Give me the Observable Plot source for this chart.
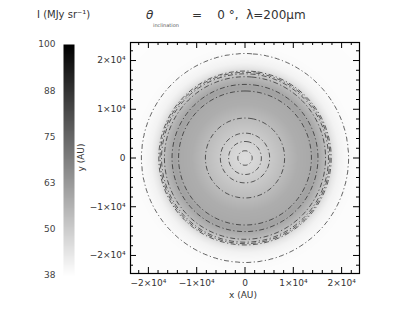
<!DOCTYPE html>
<html><head><meta charset="utf-8">
<script src="https://cdn.jsdelivr.net/npm/d3@7"></script>
<script src="https://cdn.jsdelivr.net/npm/@observablehq/plot@0.6"></script>
<style>
body{margin:0;background:#fff;}
#wrap{position:relative;width:402px;height:311px;overflow:hidden;font-family:"DejaVu Sans",sans-serif;color:#333;}
#cb,#main{position:absolute;left:0;top:0;}
.t{position:absolute;white-space:nowrap;font-size:11px;line-height:1;color:#333;}
</style></head>
<body><div id="wrap">
<div id="cb"></div><div id="main"></div>
<div class="t" style="left:37px;top:10px;font-size:10px;">I (MJy sr⁻¹)</div>
<div class="t" style="left:146px;top:9px;font-style:italic;font-size:12px;">θ</div>
<div class="t" style="left:153px;top:23px;font-size:5px;color:#555;">inclination</div>
<div class="t" style="left:192px;top:9px;font-size:12px;">=&nbsp;&nbsp;&nbsp;&nbsp;0 °,&nbsp;&nbsp;λ=200μm</div>
<div class="t" style="left:229px;top:291px;font-size:9px;">x (AU)</div>
<div class="t" style="left:68px;top:153px;font-size:9px;transform:rotate(-90deg);transform-origin:center;">y (AU)</div>
</div>
<script>
// radial intensity profile (AU, MJy/sr)
const profileRadius    = [0, 1500, 3400, 5100, 8200, 11000, 13500, 14500, 15500, 16500, 17200, 17800, 18600, 19500, 20500, 21400, 23000, 34000];
const profileIntensity = [46, 46.8, 48.5, 50.5, 54, 57.5, 58.5, 60.5, 58, 55, 51, 47, 43, 40.5, 39.5, 38.8, 38.3, 38];
const contourLevels = [38.8, 46.8, 48.5, 50.5, 54, 59];
const colorTicks = [100, 87.5, 75, 62.5, 50, 37.5];
const majorTicks = [-20000, -10000, 0, 10000, 20000];
const majorLabels = ["−2×10⁴", "−1×10⁴", "0", "1×10⁴", "2×10⁴"];
const minorTicks = [-22000,-18000,-16000,-14000,-12000,-8000,-6000,-4000,-2000,2000,4000,6000,8000,12000,14000,16000,18000,22000];
const axisLimit = 23700;
const colorDomain = [37.5, 100];

const prof = d3.scaleLinear().domain(profileRadius).range(profileIntensity).clamp(true);
const field = (x, y) => prof(Math.hypot(x, y));
const colorOpt = {type: "linear", domain: colorDomain, range: ["white", "black"]};
const L = axisLimit;
const W = 402, H = 311, mL = 130, mR = 43, mT = 42, mB = 38;
const iW = W - mL - mR, iH = H - mT - mB;
const fmt = d => majorLabels[majorTicks.indexOf(d)];

const main = Plot.plot({
  width: W, height: H, marginLeft: mL, marginRight: mR, marginTop: mT, marginBottom: mB,
  x: {domain: [-L, L]}, y: {domain: [-L, L]},
  color: colorOpt,
  style: {fontFamily: "DejaVu Sans", fontSize: "9px", color: "#333", background: "transparent"},
  marks: [
    Plot.raster({x1: -L, x2: L, y1: -L, y2: L, fill: field, pixelSize: 1}),
    Plot.contour({x1: -L, x2: L, y1: -L, y2: L, value: field, thresholds: contourLevels,
      fill: "none", stroke: "#222", strokeWidth: 0.7, strokeDasharray: "5,2.5,1.2,2.5", pixelSize: 1}),
    Plot.tickX(majorTicks, {x: d => d, insetTop: iH - 6, stroke: "#000"}),
    Plot.tickX(minorTicks, {x: d => d, insetTop: iH - 3, stroke: "#000"}),
    Plot.tickX(majorTicks, {x: d => d, insetBottom: iH - 6, stroke: "#000"}),
    Plot.tickX(minorTicks, {x: d => d, insetBottom: iH - 3, stroke: "#000"}),
    Plot.tickY(majorTicks, {y: d => d, insetRight: iW - 6, stroke: "#000"}),
    Plot.tickY(minorTicks, {y: d => d, insetRight: iW - 3, stroke: "#000"}),
    Plot.tickY(majorTicks, {y: d => d, insetLeft: iW - 6, stroke: "#000"}),
    Plot.tickY(minorTicks, {y: d => d, insetLeft: iW - 3, stroke: "#000"}),
    Plot.axisX({ticks: majorTicks, tickFormat: fmt, tickSize: 0, tickPadding: 6, label: null}),
    Plot.axisY({ticks: majorTicks, tickFormat: fmt, tickSize: 0, tickPadding: 5, label: null}),
    Plot.frame({stroke: "#000", strokeWidth: 1.2})
  ]
});
document.getElementById("main").append(main);

const cb = Plot.plot({
  width: 110, height: H, marginLeft: 63, marginRight: 36, marginTop: 44, marginBottom: 36,
  x: {domain: [0, 1], axis: null}, y: {domain: colorDomain},
  color: colorOpt,
  style: {fontFamily: "DejaVu Sans", fontSize: "9px", color: "#444", background: "transparent"},
  marks: [
    Plot.raster({x1: 0, x2: 1, y1: colorDomain[0], y2: colorDomain[1], fill: (x, y) => y, pixelSize: 1}),
    Plot.axisY({ticks: colorTicks, tickSize: 0, tickPadding: 8, label: null, tickFormat: d => String(Math.round(d))})
  ]
});
document.getElementById("cb").append(cb);
</script>
</body></html>
